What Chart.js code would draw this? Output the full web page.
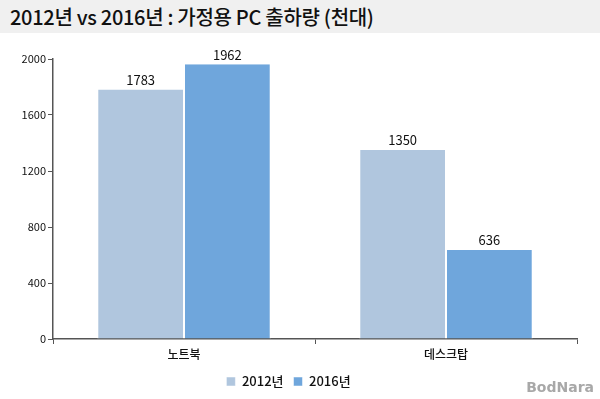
<!DOCTYPE html>
<html><head><meta charset="utf-8">
<script src="https://cdn.jsdelivr.net/npm/chart.js@4/dist/chart.umd.min.js"></script>
<style>
html,body{margin:0;padding:0;background:#fff;width:600px;height:399px;overflow:hidden;}
#title{position:absolute;left:0;top:0;width:600px;height:33px;background:#f0f0f0;font-family:"Noto Sans CJK KR","Noto Sans",sans-serif;font-size:20px;font-weight:500;color:#111;line-height:33px;padding-left:10px;box-sizing:border-box;letter-spacing:-0.3px;}
#wrap{position:absolute;left:0;top:33px;width:600px;height:366px;}
#mark{position:absolute;right:6px;bottom:4px;font-family:"DejaVu Sans",sans-serif;font-weight:bold;font-size:14px;color:#a8a8a8;letter-spacing:0px;}
</style></head><body>
<div id="title">2012년 vs 2016년 : 가정용 PC 출하량 (천대)</div>
<div id="wrap"><canvas id="c" width="600" height="366"></canvas></div>
<div id="mark">BodNara</div>
<script>
const categories = ["노트북", "데스크탑"];
const seriesNames = ["2012년", "2016년"];
const values2012 = [1783, 1350];
const values2016 = [1962, 636];
const yTicks = [0, 400, 800, 1200, 1600, 2000];
const colors = ["#b0c6de", "#6fa6dc"];

const FONT = '"Noto Sans CJK KR","Noto Sans",sans-serif';

const valueLabels = {
  id: 'valueLabels',
  afterDatasetsDraw(chart) {
    const ctx = chart.ctx;
    ctx.save();
    ctx.font = '13px ' + FONT;
    ctx.fillStyle = '#111';
    ctx.textAlign = 'center';
    ctx.textBaseline = 'bottom';
    chart.data.datasets.forEach((ds, i) => {
      chart.getDatasetMeta(i).data.forEach((bar, j) => {
        ctx.fillText(String(ds.data[j]), bar.x, bar.y - 3);
      });
    });
    ctx.restore();
  }
};

new Chart(document.getElementById('c'), {
  type: 'bar',
  data: {
    labels: categories,
    datasets: [
      { label: seriesNames[0], data: values2012, backgroundColor: colors[0], borderColor: '#ffffff', borderWidth: {left:1,right:1,top:0,bottom:0}, borderSkipped: false },
      { label: seriesNames[1], data: values2016, backgroundColor: colors[1], borderColor: '#ffffff', borderWidth: {left:1,right:1,top:0,bottom:0}, borderSkipped: false }
    ]
  },
  options: {
    responsive: false,
    animation: false,
    layout: { padding: { top: 26, right: 23, left: 0, bottom: 1 } },
    datasets: { bar: { categoryPercentage: 0.662, barPercentage: 1.0 } },
    plugins: {
      title: { display: false },
      tooltip: { enabled: false },
      legend: {
        position: 'bottom',
        labels: { boxWidth: 9, boxHeight: 9, padding: 10, color: '#111', font: { family: FONT, size: 13, weight: '500' } }
      }
    },
    scales: {
      x: {
        grid: { display: true, offset: true, drawOnChartArea: false, drawTicks: true, tickLength: 5, color: '#555', lineWidth: 1 },
        border: { display: true, color: '#555', width: 1.5 },
        ticks: { color: '#111', font: { family: FONT, size: 12, weight: '500' }, padding: 3 },
        afterFit(s) { s.height = 26; }
      },
      y: {
        min: 0, max: 2000,
        afterBuildTicks(s) { s.ticks = yTicks.map(v => ({ value: v })); },
        grid: { display: true, drawOnChartArea: false, drawTicks: true, tickLength: 5, color: '#555' },
        border: { display: true, color: '#555', width: 1.5 },
        ticks: { color: '#111', font: { family: FONT, size: 11 }, padding: 2, callback: v => String(v) },
        afterFit(s) { s.width = 53; }
      }
    }
  },
  plugins: [valueLabels]
});
</script>
</body></html>
